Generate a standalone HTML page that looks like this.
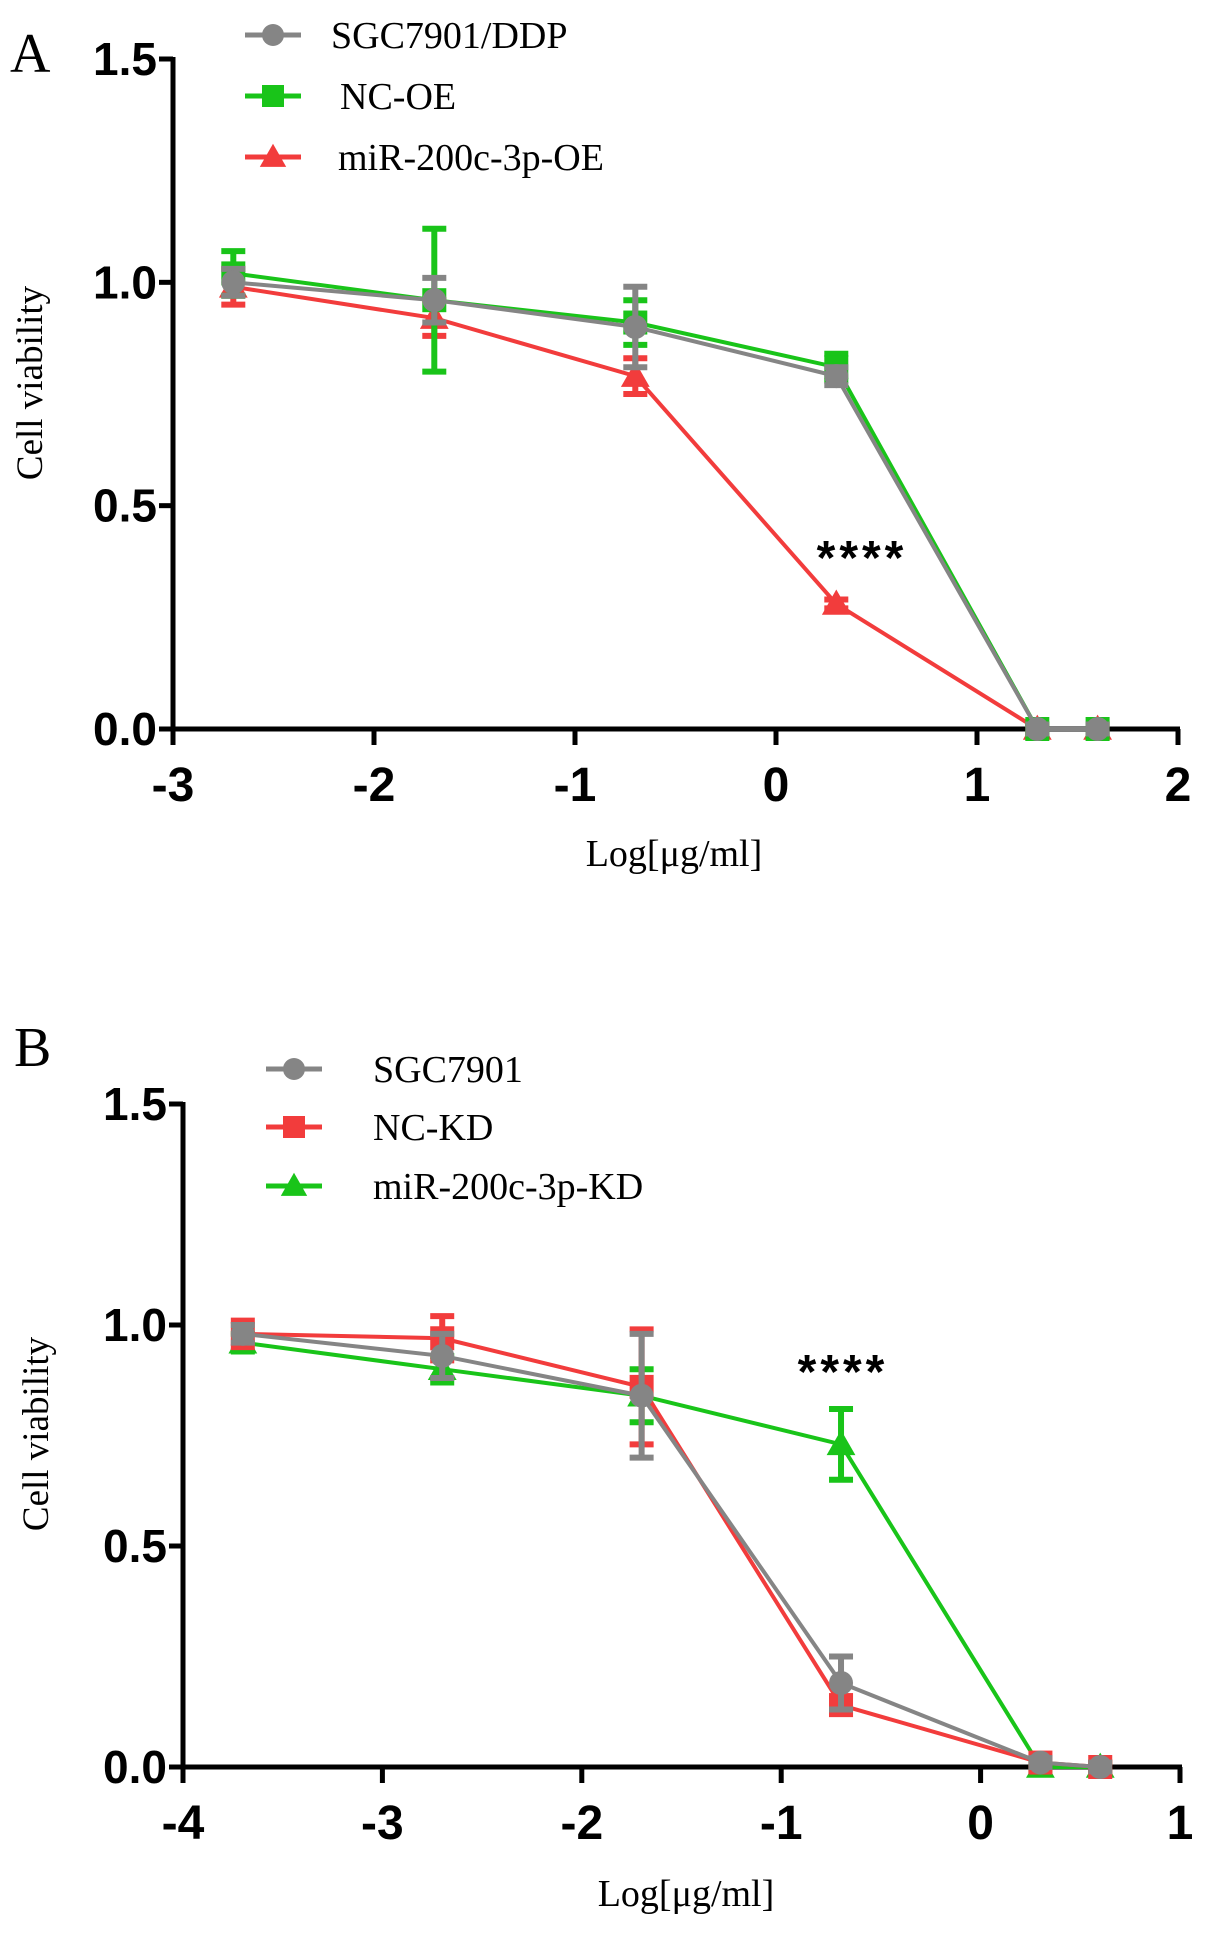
<!DOCTYPE html>
<html><head><meta charset="utf-8"><style>
html,body{margin:0;padding:0;background:#fff;}
svg{display:block;}
</style></head><body>
<svg id="fig" width="1205" height="1935" viewBox="0 0 1205 1935" xmlns="http://www.w3.org/2000/svg"></svg>
<script>
// Panel A data
const xA = [-2.7, -1.7, -0.7, 0.3, 1.3, 1.6];
const grayA = [1.0, 0.96, 0.90, 0.79, 0.0, 0.0];
const grayAErr = [0.03, 0.05, 0.09, 0.02, 0.01, 0.01];
const greenA = [1.02, 0.96, 0.91, 0.81, 0.0, 0.0];
const greenAErr = [0.05, 0.16, 0.05, 0.03, 0.01, 0.01];
const redA = [0.99, 0.92, 0.79, 0.28, 0.0, 0.0];
const redAErr = [0.04, 0.04, 0.04, 0.01, 0.01, 0.01];
const xTicksA = [-3, -2, -1, 0, 1, 2];
// Panel B data
const xB = [-3.7, -2.7, -1.7, -0.7, 0.3, 0.6];
const grayB = [0.98, 0.93, 0.84, 0.19, 0.01, 0.0];
const grayBErr = [0.02, 0.05, 0.14, 0.06, 0.01, 0.01];
const redB = [0.98, 0.97, 0.86, 0.14, 0.01, 0.0];
const redBErr = [0.03, 0.05, 0.13, 0.02, 0.01, 0.01];
const greenB = [0.96, 0.90, 0.84, 0.73, 0.0, 0.0];
const greenBErr = [0.02, 0.03, 0.06, 0.08, 0.01, 0.01];
const xTicksB = [-4, -3, -2, -1, 0, 1];
const yTicks = [0.0, 0.5, 1.0, 1.5];
const yTickLabels = ["0.0", "0.5", "1.0", "1.5"];

const NS = "http://www.w3.org/2000/svg";
const svg = document.getElementById('fig');
const GRAY = "#858585", GREEN = "#19c419", RED = "#f23c3c";
function mk(tag, attrs, parent) {
  const e = document.createElementNS(NS, tag);
  for (const k in attrs) e.setAttribute(k, attrs[k]);
  (parent || svg).appendChild(e);
  return e;
}
function txt(s, attrs, parent) { const e = mk('text', attrs, parent); e.textContent = s; return e; }

function marker(g, shape, cx, cy, color, size) {
  let m;
  if (shape === 'circle') m = mk('circle', {cx: cx, cy: cy, r: size, fill: color}, g);
  else if (shape === 'square') m = mk('rect', {x: cx - size, y: cy - size, width: 2 * size, height: 2 * size, fill: color}, g);
  else m = mk('polygon', {points: `${cx},${cy - size * 1.2} ${cx - size * 1.2},${cy + size * 0.9} ${cx + size * 1.2},${cy + size * 0.9}`, fill: color}, g);
  return m;
}

function panel(p) {
  const g = mk('g', {});
  
  
  const sx = v => p.x0 + (v - p.xmin) / (p.xmax - p.xmin) * (p.x1 - p.x0);
  const sy = v => p.y0 - v / 1.5 * (p.y0 - p.y1);
  const ya = mk('line', {x1: p.x0, y1: p.y1 - 2, x2: p.x0, y2: p.y0 + 2, stroke: '#000', 'stroke-width': 5}, g);
  
  
  const xa = mk('line', {x1: p.x0 - 2, y1: p.y0, x2: p.x1 + 2, y2: p.y0, stroke: '#000', 'stroke-width': 5}, g);
  
  
  yTicks.forEach((v, i) => {
    mk('line', {x1: p.x0 - 14, y1: sy(v), x2: p.x0, y2: sy(v), stroke: '#000', 'stroke-width': 5}, g);
    const t = txt(yTickLabels[i], {x: p.x0 - 16, y: sy(v) + 16, 'text-anchor': 'end', 'font-family': 'Liberation Sans Narrow, Liberation Sans, sans-serif', 'font-weight': 'bold', 'font-size': 46}, g);
    
    
  });
  p.xt.forEach(v => {
    mk('line', {x1: sx(v), y1: p.y0, x2: sx(v), y2: p.y0 + 16, stroke: '#000', 'stroke-width': 5}, g);
    const t = txt(String(v), {x: sx(v), y: p.y0 + 72, 'text-anchor': 'middle', 'font-family': 'Liberation Sans Narrow, Liberation Sans, sans-serif', 'font-weight': 'bold', 'font-size': 48}, g);
    
    
  });
  // series: draw in given drawOrder so gray ends on top
  p.drawOrder.forEach(idx => {
    const s = p.series[idx];
    const sg = mk('g', {}, g);
    
    
    const pts = p.xs.map((x, i) => `${sx(x)},${sy(s.vals[i])}`).join(' ');
    mk('polyline', {points: pts, fill: 'none', stroke: s.color, 'stroke-width': 4}, sg);
    p.xs.forEach((x, i) => {
      const cx = sx(x), e = s.err[i];
      const top = sy(s.vals[i] + e), bot = sy(s.vals[i] - e);
      mk('line', {x1: cx, y1: top, x2: cx, y2: bot, stroke: s.color, 'stroke-width': 6}, sg);
      mk('line', {x1: cx - 12, y1: top, x2: cx + 12, y2: top, stroke: s.color, 'stroke-width': 6}, sg);
      mk('line', {x1: cx - 12, y1: bot, x2: cx + 12, y2: bot, stroke: s.color, 'stroke-width': 6}, sg);
      const m = marker(sg, s.shape, cx, sy(s.vals[i]), s.color, 12);
      
      
    });
  });
  p.series.forEach((s, i) => {
    const lg = mk('g', {}, g);
    
    
    const ly = p.legY[i];
    mk('line', {x1: p.legX, y1: ly, x2: p.legX + 56, y2: ly, stroke: s.color, 'stroke-width': 5}, lg);
    marker(lg, s.shape, p.legX + 28, ly, s.color, 11);
    txt(s.label, {x: p.legTX[i], y: ly + 13, 'font-family': 'Liberation Serif, serif', 'font-size': 38}, lg);
  });
  const pl = txt(p.letter, {x: p.letX, y: p.letY, 'font-family': 'Liberation Serif, serif', 'font-size': 56}, g);
  
  
  const yt = txt('Cell viability', {x: 0, y: 0, transform: `translate(${p.ytX},${p.ytY}) rotate(-90)`, 'text-anchor': 'middle', 'font-family': 'Liberation Serif, serif', 'font-size': 37}, g);
  
  
  const xt = txt('Log[μg/ml]', {x: p.xtX, y: p.xtY, 'text-anchor': 'middle', 'font-family': 'Liberation Serif, serif', 'font-size': 38}, g);
  
  
  const st = txt('****', {x: p.stX, y: p.stY, 'text-anchor': 'middle', 'font-family': 'Liberation Sans, sans-serif', 'font-weight': 'bold', 'font-size': 48, 'letter-spacing': 4}, g);
  
  
}

panel({name: 'panel-a', letter: 'A', letX: 10, letY: 72, x0: 173, x1: 1178, y0: 729, y1: 59, xmin: -3, xmax: 2, xs: xA, xt: xTicksA,
  series: [
    {key: 'series-sgc7901-ddp', label: 'SGC7901/DDP', vals: grayA, err: grayAErr, color: GRAY, shape: 'circle'},
    {key: 'series-nc-oe', label: 'NC-OE', vals: greenA, err: greenAErr, color: GREEN, shape: 'square'},
    {key: 'series-mir-200c-3p-oe', label: 'miR-200c-3p-OE', vals: redA, err: redAErr, color: RED, shape: 'triangle'}
  ],
  drawOrder: [2, 1, 0],
  legX: 245, legY: [35, 96, 157], legTX: [331, 340, 338],
  ytX: 42, ytY: 383, xtX: 674, xtY: 866, stX: 862, stY: 574});

panel({name: 'panel-b', letter: 'B', letX: 14, letY: 1066, x0: 183, x1: 1180, y0: 1767, y1: 1104, xmin: -4, xmax: 1, xs: xB, xt: xTicksB,
  series: [
    {key: 'series-sgc7901', label: 'SGC7901', vals: grayB, err: grayBErr, color: GRAY, shape: 'circle'},
    {key: 'series-nc-kd', label: 'NC-KD', vals: redB, err: redBErr, color: RED, shape: 'square'},
    {key: 'series-mir-200c-3p-kd', label: 'miR-200c-3p-KD', vals: greenB, err: greenBErr, color: GREEN, shape: 'triangle'}
  ],
  drawOrder: [2, 1, 0],
  legX: 266, legY: [1069, 1127, 1186], legTX: [373, 373, 373],
  ytX: 48, ytY: 1434, xtX: 686, xtY: 1906, stX: 843, stY: 1388});
</script>
</body></html>
